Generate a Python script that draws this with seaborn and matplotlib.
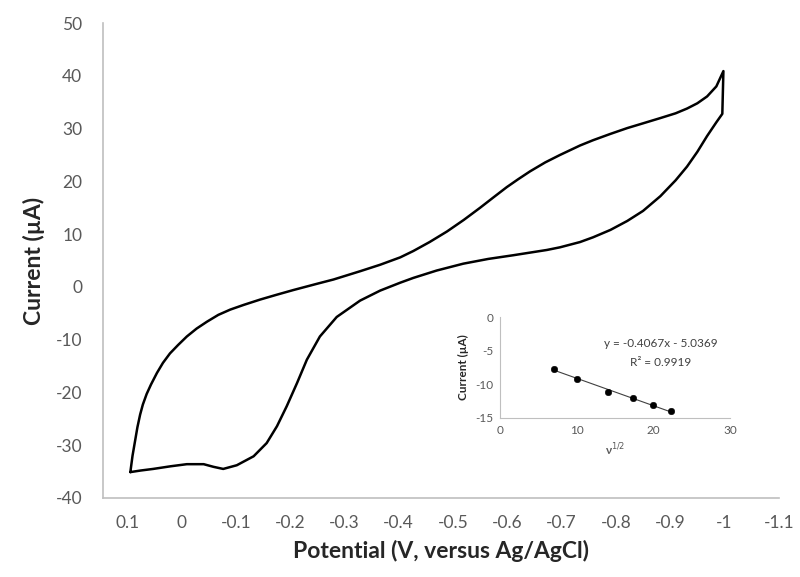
import matplotlib
matplotlib.use("Agg")
import matplotlib.pyplot as plt
import seaborn as sns
import numpy as np

# cyclic voltammogram (V vs Ag/AgCl, uA)
# forward scan (lower branch), then the return scan (upper branch)
potential = [0.094, 0.075, 0.052, 0.02, -0.01, -0.041, -0.059, -0.077, -0.102, -0.133,
             -0.157, -0.176, -0.194, -0.213, -0.231, -0.255, -0.286, -0.329, -0.366, -0.403,
             -0.427, -0.47, -0.519, -0.565, -0.611, -0.673, -0.697, -0.734, -0.758, -0.79,
             -0.821, -0.85, -0.882, -0.91, -0.931, -0.95, -0.968, -0.985, -0.996, -0.998,
             -0.985, -0.968, -0.95, -0.931, -0.91, -0.882, -0.85, -0.821, -0.79, -0.758,
             -0.734, -0.697, -0.67, -0.642, -0.62, -0.599, -0.575, -0.55, -0.52, -0.489,
             -0.457, -0.427, -0.403, -0.366, -0.33, -0.305, -0.28, -0.25, -0.206, -0.175,
             -0.145, -0.115, -0.09, -0.068, -0.047, -0.028, -0.01, 0.006, 0.021, 0.034,
             0.045, 0.056, 0.064, 0.071, 0.076, 0.081, 0.085, 0.09, 0.094]
current = [-35.1, -34.8, -34.5, -34.0, -33.6, -33.6, -34.1, -34.5, -33.8, -32.1,
           -29.6, -26.4, -22.6, -18.2, -13.8, -9.4, -5.7, -2.6, -0.7, 0.8,
           1.7, 3.1, 4.4, 5.3, 6.0, 7.0, 7.5, 8.5, 9.4, 10.8,
           12.5, 14.4, 17.2, 20.2, 22.8, 25.6, 28.6, 31.2, 32.8, 40.9,
           38.0, 36.1, 34.8, 33.8, 32.9, 32.0, 31.0, 30.1, 29.0, 27.8,
           26.8, 25.0, 23.6, 21.9, 20.4, 18.9, 17.0, 15.0, 12.7, 10.5,
           8.5, 6.8, 5.6, 4.2, 3.0, 2.2, 1.4, 0.6, -0.6, -1.5,
           -2.4, -3.4, -4.3, -5.3, -6.6, -7.9, -9.4, -11.0, -12.6, -14.4,
           -16.3, -18.5, -20.3, -22.3, -24.2, -26.6, -29.0, -32.0, -35.1]

x_ticks = [0.1, 0.0, -0.1, -0.2, -0.3, -0.4, -0.5, -0.6, -0.7, -0.8, -0.9, -1.0, -1.1]
x_ticklabels = ["0.1", "0", "-0.1", "-0.2", "-0.3", "-0.4", "-0.5", "-0.6",
                "-0.7", "-0.8", "-0.9", "-1", "-1.1"]
y_ticks = [-40, -30, -20, -10, 0, 10, 20, 30, 40, 50]

# inset: peak current vs square root of scan rate
sqrt_rate = [7.07, 10.0, 14.14, 17.32, 20.0, 22.36]
peak_current = [-7.7, -9.2, -11.2, -12.1, -13.1, -14.0]
slope, intercept = -0.4067, -5.0369

sns.set_style("white")
plt.rcParams["font.family"] = ["Lato", "DejaVu Sans"]
plt.rcParams["axes.unicode_minus"] = False

gray = "#595959"
spine_col = "#bfbfbf"

fig = plt.figure(figsize=(8, 5.77), dpi=100)
ax = fig.add_axes([0.129, 0.137, 0.8445, 0.823])

sns.lineplot(x=potential, y=current, sort=False, estimator=None, color="black",
             linewidth=1.8, ax=ax)

ax.set_xlim(0.144, -1.1)
ax.set_ylim(-40, 50)
ax.set_xticks(x_ticks)
ax.set_xticklabels(x_ticklabels)
ax.set_yticks(y_ticks)
for s in ["top", "right"]:
    ax.spines[s].set_visible(False)
for s in ["left", "bottom"]:
    ax.spines[s].set_color(spine_col)
    ax.spines[s].set_linewidth(1.2)
ax.tick_params(axis="both", direction="out", length=5, width=1, color=spine_col,
               labelcolor=gray, labelsize=12.5, pad=7)
ax.tick_params(axis="y", pad=10)
ax.set_xlabel("Potential (V, versus Ag/AgCl)", fontsize=16.5, fontweight="bold",
              color="#262626", labelpad=7)
ax.set_ylabel("Current (\u00b5A)", fontsize=16.5, fontweight="bold",
              color="#262626", labelpad=8)

# inset
ins = fig.add_axes([0.625, 0.2756, 0.2875, 0.175])
ins.set_facecolor("none")
sns.scatterplot(x=sqrt_rate, y=peak_current, color="black", s=22, ax=ins,
                edgecolor="black", zorder=3)
fit_x = np.array([sqrt_rate[0], sqrt_rate[-1]])
ins.plot(fit_x, slope * fit_x + intercept, color="#404040", linewidth=0.8)
ins.set_xlim(0, 30)
ins.set_ylim(-15, 0)
ins.set_xticks([0, 10, 20, 30])
ins.set_yticks([0, -5, -10, -15])
for s in ["top", "right"]:
    ins.spines[s].set_visible(False)
for s in ["left", "bottom"]:
    ins.spines[s].set_color(spine_col)
ins.tick_params(axis="both", length=0, labelcolor=gray, labelsize=8.5, pad=5)
ins.set_xlabel("\u03bd$^{1/2}$", fontsize=8.5, fontweight="bold", color=gray)
ins.set_ylabel("Current (\u00b5A)", fontsize=8.5, fontweight="bold", color="#262626")
ins.text(0.70, 0.74, "y = -0.4067x - 5.0369", transform=ins.transAxes,
         ha="center", va="center", fontsize=8.5, color="#404040")
ins.text(0.70, 0.55, "R\u00b2 = 0.9919", transform=ins.transAxes,
         ha="center", va="center", fontsize=8.5, color="#404040")

fig.savefig("out.png", dpi=100)
